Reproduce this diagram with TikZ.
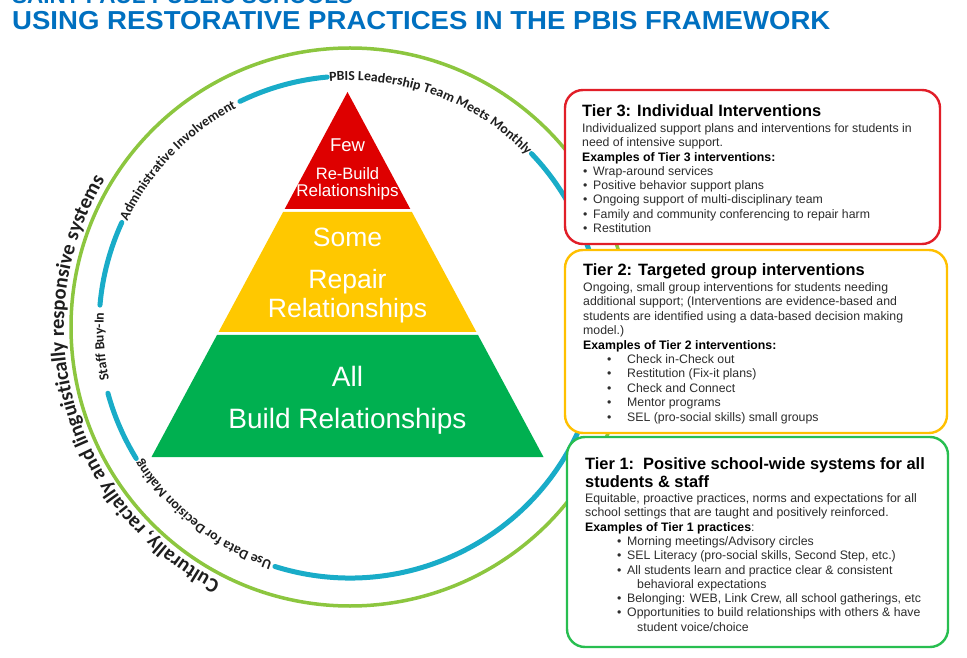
\documentclass[tikz,border=0pt]{standalone}
\usepackage{fontspec}
\setmainfont{Liberation Sans}
\newfontfamily\circfont{Carlito}
\usetikzlibrary{decorations.text}
\definecolor{titleblue}{RGB}{0,112,192}
\definecolor{pyrred}{RGB}{222,0,0}
\definecolor{pyryel}{RGB}{255,200,0}
\definecolor{pyrgrn}{RGB}{0,176,80}
\definecolor{ringgrn}{RGB}{140,198,63}
\definecolor{ringblu}{RGB}{25,172,200}
\definecolor{boxred}{RGB}{225,30,40}
\definecolor{boxyel}{RGB}{255,192,0}
\definecolor{boxgrn}{RGB}{40,190,80}
\definecolor{bodygray}{RGB}{45,45,45}
\definecolor{circtext}{RGB}{30,30,30}
\newcommand{\ringfont}{\circfont\bfseries\fontsize{13.8}{16}\selectfont}
\newcommand{\outerfont}{\circfont\bfseries\fontsize{20.5}{24}\selectfont}
\newcommand{\bodyfont}{\fontsize{12.3}{14.3}\selectfont}
\newcommand{\bul}[2]{\makebox[#2][l]{\hspace*{#1}•}}
\begin{document}
\begin{tikzpicture}[x=1pt,y=1pt,
  bluearc/.style={ringblu, line width=5, line cap=round},
  arctext/.style={decorate, decoration={text along path, text align=center, text color=circtext, text={#1}}},
  tierbox/.style={line width=2.4, rounded corners=18, fill=white, draw=#1},
  pyrtext/.style={anchor=base, inner sep=0, text=white},
  boxtitle/.style={anchor=base west, inner sep=0, text=black, font=\bfseries\fontsize{16.4}{18}\selectfont},
  boxbody/.style={anchor=base west, inner sep=0, text=bodygray}]
\useasboundingbox (0,0) rectangle (967,657);
\fill[white] (0,0) rectangle (967,657);

% header
\begin{scope}
\clip (0,0) rectangle (967,657);
\node[anchor=base west, inner sep=0, text=titleblue, font=\bfseries\fontsize{22.5}{24}\selectfont] (org) at (12,653.5) {SAINT PAUL PUBLIC SCHOOLS};
\end{scope}
\node[anchor=base west, inner sep=0, text=titleblue, font=\bfseries\fontsize{26}{28}\selectfont] (title) at (12,627) {\scalebox{1.06}[1]{USING RESTORATIVE PRACTICES IN THE PBIS FRAMEWORK}};

% rings
\coordinate (C) at (350,330);
\draw[ringgrn, line width=3.5] (C) circle[radius=279];
\draw[bluearc] ([shift={(95.2:251)}]C) arc[start angle=95.2, end angle=116, radius=251];
\draw[bluearc] ([shift={(155.4:251)}]C) arc[start angle=155.4, end angle=175, radius=251];
\draw[bluearc] ([shift={(195.3:251)}]C) arc[start angle=195.3, end angle=211.6, radius=251];
\draw[bluearc] ([shift={(252.6:251)}]C) arc[start angle=252.6, end angle=403.7, radius=251];

\path[arctext={|\ringfont|PBIS Leadership Team Meets Monthly}] ([shift={(99.5:246.5)}]C) arc[start angle=99.5, end angle=39.5, radius=246.5];
\path[arctext={|\ringfont|Administrative Involvement}] ([shift={(166:246.5)}]C) arc[start angle=166, end angle=106, radius=246.5];
\path[arctext={|\ringfont|Staff Buy-In}] ([shift={(200:246.5)}]C) arc[start angle=200, end angle=169, radius=246.5];
\path[arctext={|\ringfont|Use Data for Decision Making}] ([shift={(262:246.5)}]C) arc[start angle=262, end angle=202, radius=246.5];
\path[arctext={|\outerfont|Culturally, racially and linguistically responsive systems}] ([shift={(256:286)}]C) arc[start angle=256, end angle=136, radius=286];

% pyramid
\fill[pyrred] (347.5,565) -- (410.3,448) -- (284.7,448) -- cycle;
\fill[pyryel] (283.1,445) -- (411.9,445) -- (476.4,325) -- (218.6,325) -- cycle;
\fill[pyrgrn] (217,322) -- (478,322) -- (543.5,200) -- (151.5,200) -- cycle;
\node[pyrtext, font=\fontsize{18.5}{20}\selectfont] (few) at (347.5,505) {Few};
\node[pyrtext, font=\fontsize{16.5}{18}\selectfont] (rebuild) at (347.5,477) {Re-Build};
\node[pyrtext, font=\fontsize{17}{18}\selectfont] (rel3) at (347.5,460) {Relationships};
\node[pyrtext, font=\fontsize{26.5}{28}\selectfont] (some) at (347.5,410) {Some};
\node[pyrtext, font=\fontsize{26.5}{28}\selectfont] (repair) at (347.5,368) {Repair};
\node[pyrtext, font=\fontsize{26.5}{28}\selectfont] (rel2) at (347.5,339) {Relationships};
\node[pyrtext, font=\fontsize{28}{30}\selectfont] (all) at (347.5,271) {All};
\node[pyrtext, font=\fontsize{28}{30}\selectfont] (build) at (347.5,229) {Build Relationships};

% tier boxes
\draw[tierbox=boxred] (565,567) rectangle (940,413);
\draw[tierbox=boxyel] (565,407) rectangle (947,224);
\draw[tierbox=boxgrn] (567,220) rectangle (948,10);

\node[boxtitle] (t3title) at (582,540) {Tier 3: Individual Interventions};
\node[boxbody] (t3body) at (582,524.5) {\begin{minipage}[t]{355pt}\bodyfont
Individualized support plans and interventions for students in\\
need of intensive support.\\
\textcolor{black}{\bfseries Examples of Tier 3 interventions:}\\
\bul{1pt}{11pt}Wrap-around services\\
\bul{1pt}{11pt}Positive behavior support plans\\
\bul{1pt}{11pt}Ongoing support of multi-disciplinary team\\
\bul{1pt}{11pt}Family and community conferencing to repair harm\\
\bul{1pt}{11pt}Restitution
\end{minipage}};

\node[boxtitle] (t2title) at (583,381) {Tier 2: Targeted group interventions};
\node[boxbody] (t2body) at (583,365.5) {\begin{minipage}[t]{360pt}\fontsize{12.3}{14.4}\selectfont
Ongoing, small group interventions for students needing\\
additional support; (Interventions are evidence-based and\\
students are identified using a data-based decision making\\
model.)\\
\textcolor{black}{\bfseries Examples of Tier 2 interventions:}\\
\bul{24pt}{44pt}Check in-Check out\\
\bul{24pt}{44pt}Restitution (Fix-it plans)\\
\bul{24pt}{44pt}Check and Connect\\
\bul{24pt}{44pt}Mentor programs\\
\bul{24pt}{44pt}SEL (pro-social skills) small groups
\end{minipage}};

\node[anchor=base west, inner sep=0, text=black] (t1title) at (585,188) {\begin{minipage}[t]{360pt}\bfseries\fontsize{16.4}{18}\selectfont
Tier 1:\ \ Positive school-wide systems for all\\
students \& staff
\end{minipage}};
\node[boxbody] (t1body) at (585,154.5) {\begin{minipage}[t]{360pt}\bodyfont
Equitable, proactive practices, norms and expectations for all\\
school settings that are taught and positively reinforced.\\
\textcolor{black}{\bfseries Examples of Tier 1 practices}:\\
\bul{32pt}{42pt}Morning meetings/Advisory circles\\
\bul{32pt}{42pt}SEL Literacy (pro-social skills, Second Step, etc.)\\
\bul{32pt}{42pt}All students learn and practice clear \& consistent\\
\hspace*{52pt}behavioral expectations\\
\bul{32pt}{42pt}Belonging: WEB, Link Crew, all school gatherings, etc\\
\bul{32pt}{42pt}Opportunities to build relationships with others \& have\\
\hspace*{52pt}student voice/choice
\end{minipage}};
\end{tikzpicture}
\end{document}
